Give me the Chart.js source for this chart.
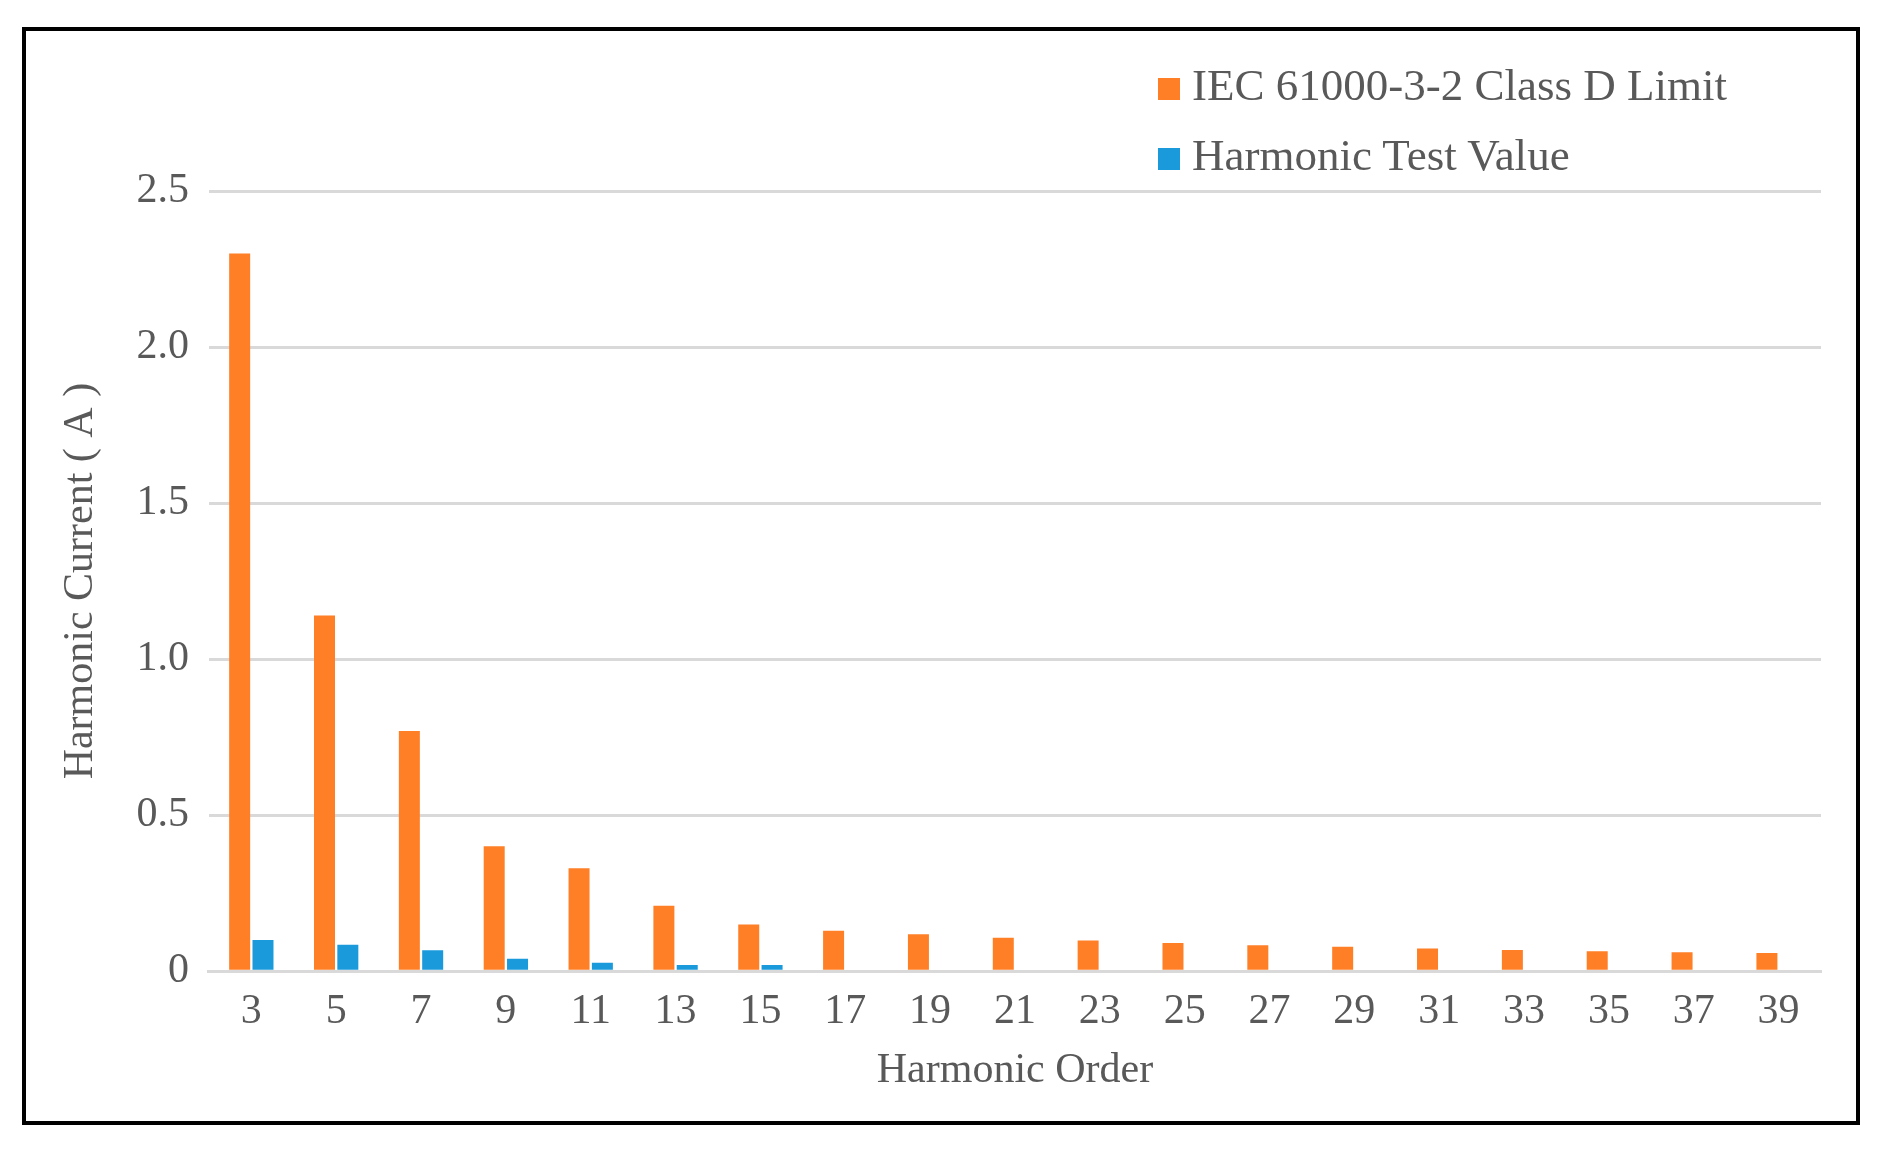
<!DOCTYPE html>
<html><head><meta charset="utf-8">
<script src="https://cdn.jsdelivr.net/npm/chart.js@4"></script>
<style>
body{margin:0;background:#fff;width:1885px;height:1151px;position:relative;font-family:"Liberation Serif",serif;}
#frame{position:absolute;left:22px;top:27px;width:1838px;height:1098px;border:4px solid #000;box-sizing:border-box;}
#wrap{position:absolute;left:26px;top:31px;width:1830px;height:1090px;}
#legend{position:absolute;left:1158px;top:50px;font-size:45px;color:#595959;line-height:70px;}
#legend span.b{display:inline-block;width:22px;height:22px;margin-right:12px;}
</style></head><body>
<div id="frame"></div>
<div id="wrap"><canvas id="c" width="1830" height="1090"></canvas></div>
<div id="legend">
<div><span class="b" style="background:#FF7F27"></span>IEC 61000-3-2 Class D Limit</div>
<div><span class="b" style="background:#1A9ADB"></span>Harmonic Test Value</div>
</div>
<script>
const categories=['3','5','7','9','11','13','15','17','19','21','23','25','27','29','31','33','35','37','39'];
const limitValues=[2.30,1.14,0.77,0.40,0.33,0.21,0.15,0.13,0.118,0.107,0.098,0.09,0.083,0.078,0.073,0.068,0.064,0.061,0.058];
const testValues=[0.10,0.085,0.067,0.04,0.027,0.02,0.02,0,0,0,0,0,0,0,0,0,0,0,0];
const tickFont={family:'Liberation Serif',size:42};
new Chart(document.getElementById('c'),{
type:'bar',
data:{labels:categories,datasets:[
{label:'IEC 61000-3-2 Class D Limit',data:limitValues,backgroundColor:'#FF7F27'},
{label:'Harmonic Test Value',data:testValues,backgroundColor:'#1A9ADB'}]},
options:{responsive:false,animation:false,devicePixelRatio:1,
layout:{padding:{left:20,right:35,top:160,bottom:25}},
datasets:{bar:{categoryPercentage:0.55,barPercentage:0.9}},
plugins:{legend:{display:false},tooltip:{enabled:false}},
scales:{
x:{grid:{display:false},border:{color:'#d9d9d9',width:3},ticks:{color:'#595959',font:tickFont,padding:8},
 title:{display:true,text:'Harmonic Order',color:'#595959',font:tickFont,padding:0}},
y:{min:0,max:2.5,ticks:{stepSize:0.5,color:'#595959',font:tickFont,padding:20},
 grid:{color:'#d9d9d9',lineWidth:3,drawTicks:false},border:{display:false},
 title:{display:true,text:'Harmonic Current ( A )',color:'#595959',font:tickFont,padding:10}}
}}});
</script>
</body></html>
